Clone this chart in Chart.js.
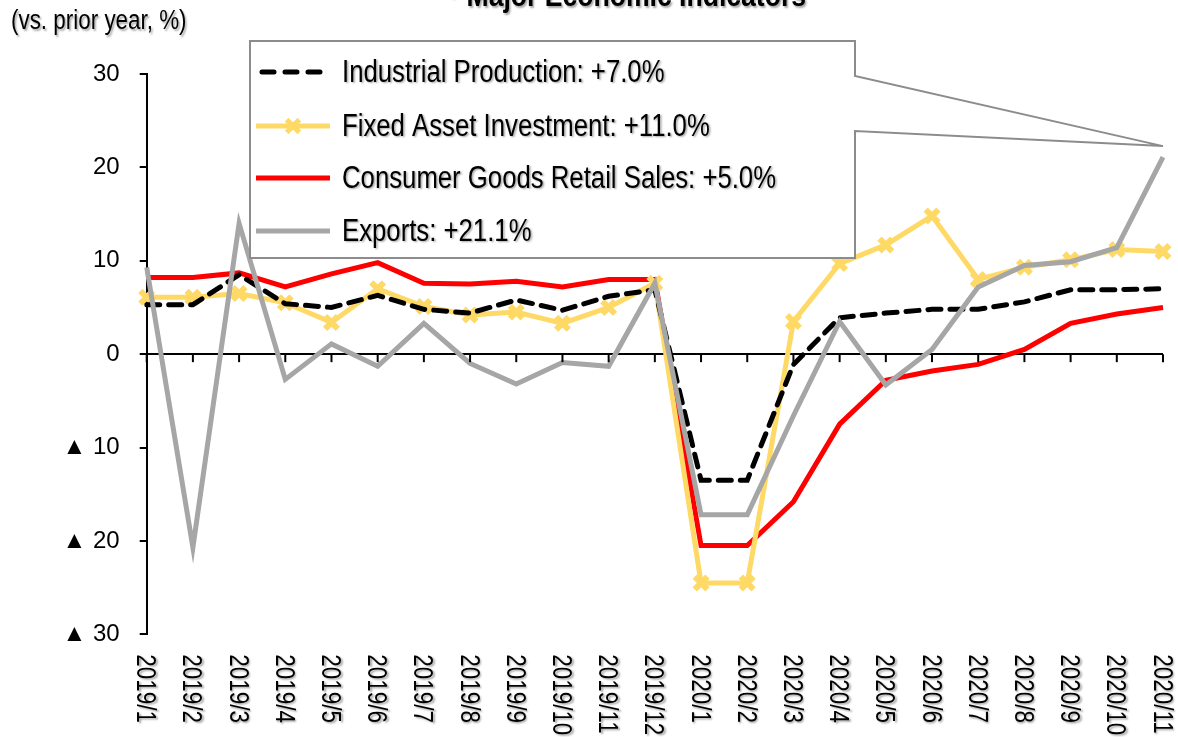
<!DOCTYPE html>
<html>
<head>
<meta charset="utf-8">
<script src="https://cdn.jsdelivr.net/npm/chart.js@4.4.1/dist/chart.umd.min.js"></script>
<style>
  html, body { margin: 0; padding: 0; background: #fff; }
  canvas { display: block; }
</style>
</head>
<body>
<canvas id="chart" width="1178" height="737"></canvas>
<script>
const months = [
  '2019/1', '2019/2', '2019/3', '2019/4', '2019/5', '2019/6', '2019/7', '2019/8',
  '2019/9', '2019/10', '2019/11', '2019/12', '2020/1', '2020/2', '2020/3', '2020/4',
  '2020/5', '2020/6', '2020/7', '2020/8', '2020/9', '2020/10', '2020/11'
];
const industrialProduction = [5.3, 5.3, 8.5, 5.4, 5.0, 6.3, 4.8, 4.4, 5.8, 4.7, 6.2, 6.9, -13.5, -13.5, -1.1, 3.9, 4.4, 4.8, 4.8, 5.6, 6.9, 6.9, 7.0];
const fixedAssetInvestment = [6.1, 6.1, 6.5, 5.5, 3.4, 7.0, 5.1, 4.2, 4.5, 3.3, 5.0, 7.6, -24.5, -24.5, 3.5, 9.7, 11.7, 14.8, 8.0, 9.3, 10.1, 11.2, 11.0];
const retailSales = [8.2, 8.2, 8.7, 7.2, 8.6, 9.8, 7.6, 7.5, 7.8, 7.2, 8.0, 8.0, -20.5, -20.5, -15.8, -7.5, -2.8, -1.8, -1.1, 0.5, 3.3, 4.3, 5.0];
const exportGrowth = [9.3, -20.7, 14.0, -2.7, 1.1, -1.3, 3.3, -1.0, -3.2, -0.9, -1.3, 7.6, -17.2, -17.2, -6.6, 3.5, -3.3, 0.5, 7.2, 9.5, 9.9, 11.4, 21.1];

const seriesNames = [
  'Industrial Production: +7.0%',
  'Fixed Asset Investment: +11.0%',
  'Consumer Goods Retail Sales: +5.0%',
  'Exports: +21.1%'
];
const yTicks = [-30, -20, -10, 0, 10, 20, 30];
const chartTitle = '\u30FBMajor Economic Indicators';
const unitLabel = '(vs. prior year, %)';

const FONT = '"Liberation Sans", Arial, sans-serif';
const NARROW = 0.83; // the slide uses a narrow face, squeeze the regular one

function withShadow(ctx) {
  ctx.shadowColor = 'rgba(0,0,0,0.35)';
  ctx.shadowOffsetX = 1.5;
  ctx.shadowOffsetY = 1.5;
  ctx.shadowBlur = 2;
}

function narrowText(ctx, text, x, y, rot) {
  ctx.save();
  ctx.translate(x, y);
  if (rot) ctx.rotate(rot);
  ctx.scale(NARROW, 1);
  ctx.fillText(text, 0, 0);
  ctx.restore();
}

// tick marks on the zero line + rotated month labels at the bottom
const xAxisPlugin = {
  id: 'xAxisPlugin',
  afterDraw(chart) {
    const ctx = chart.ctx;
    const x = chart.scales.x;
    const y0 = chart.scales.y.getPixelForValue(0);
    ctx.save();
    ctx.strokeStyle = '#000';
    ctx.lineWidth = 2;
    months.forEach((m, i) => {
      const px = x.getPixelForValue(i);
      ctx.beginPath();
      ctx.moveTo(px, y0);
      ctx.lineTo(px, y0 + 8);
      ctx.stroke();
    });
    ctx.fillStyle = '#000';
    ctx.font = '27px ' + FONT;
    ctx.textAlign = 'left';
    ctx.textBaseline = 'middle';
    withShadow(ctx);
    months.forEach((m, i) => {
      narrowText(ctx, m, x.getPixelForValue(i) - 2, chart.chartArea.bottom + 20, Math.PI / 2);
    });
    ctx.restore();
  }
};

// callout legend box pointing at the last exports point, title and unit text
const calloutPlugin = {
  id: 'calloutPlugin',
  afterDatasetsDraw(chart) {
    const ctx = chart.ctx;
    const box = { left: 250, top: 41, right: 855, bottom: 258, notchTop: 76, notchBottom: 131 };
    const last = months.length - 1;
    const tipX = chart.scales.x.getPixelForValue(last);
    const tipY = chart.scales.y.getPixelForValue(exportGrowth[last]) - 11;

    ctx.save();
    ctx.beginPath();
    ctx.moveTo(box.left, box.top);
    ctx.lineTo(box.right, box.top);
    ctx.lineTo(box.right, box.notchTop);
    ctx.lineTo(tipX, tipY);
    ctx.lineTo(box.right, box.notchBottom);
    ctx.lineTo(box.right, box.bottom);
    ctx.lineTo(box.left, box.bottom);
    ctx.closePath();
    ctx.fillStyle = '#fff';
    ctx.fill();
    ctx.strokeStyle = '#8c8c8c';
    ctx.lineWidth = 2;
    ctx.stroke();

    const rows = [72, 126, 178, 231];
    chart.data.datasets.forEach((ds, i) => {
      const y = rows[i];
      ctx.save();
      ctx.strokeStyle = ds.borderColor;
      ctx.lineWidth = ds.borderWidth;
      ctx.lineCap = ds.borderDash ? 'round' : 'butt';
      ctx.setLineDash(ds.borderDash ? [12, 11] : []);
      ctx.beginPath();
      ctx.moveTo(ds.borderDash ? 262 : 256, y);
      ctx.lineTo(330, y);
      ctx.stroke();
      ctx.setLineDash([]);
      if (ds.pointRadius > 0) {
        Chart.helpers.drawPoint(ctx, {
          pointStyle: ds.pointStyle, radius: ds.pointRadius, borderWidth: ds.pointBorderWidth
        }, 293, y);
      }
      ctx.restore();
      ctx.save();
      ctx.fillStyle = '#000';
      ctx.font = '31px ' + FONT;
      ctx.textAlign = 'left';
      ctx.textBaseline = 'middle';
      withShadow(ctx);
      narrowText(ctx, ds.label, 342, y + 1);
      ctx.restore();
    });

    ctx.fillStyle = '#000';
    withShadow(ctx);
    ctx.font = 'bold 32px ' + FONT;
    ctx.textAlign = 'center';
    ctx.textBaseline = 'alphabetic';
    narrowText(ctx, chartTitle, 623, 6);
    ctx.font = '27px ' + FONT;
    ctx.textAlign = 'left';
    ctx.textBaseline = 'middle';
    narrowText(ctx, unitLabel, 11, 22);
    ctx.restore();
  }
};

const data = {
  labels: months,
  datasets: [
    {
      label: seriesNames[0],
      data: industrialProduction,
      borderColor: '#000000',
      borderWidth: 5,
      borderDash: [13, 9],
      borderCapStyle: 'round',
      pointRadius: 0,
      order: 1
    },
    {
      label: seriesNames[1],
      data: fixedAssetInvestment,
      borderColor: '#FFD966',
      backgroundColor: '#FFD966',
      borderWidth: 5,
      pointStyle: 'crossRot',
      pointRadius: 9,
      pointBorderWidth: 6,
      pointBorderColor: '#FFD966',
      order: 2
    },
    {
      label: seriesNames[2],
      data: retailSales,
      borderColor: '#FF0000',
      borderWidth: 5,
      pointRadius: 0,
      order: 3
    },
    {
      label: seriesNames[3],
      data: exportGrowth,
      borderColor: '#A6A6A6',
      borderWidth: 5,
      pointRadius: 0,
      order: 0
    }
  ]
};

new Chart(document.getElementById('chart'), {
  type: 'line',
  data: data,
  options: {
    responsive: false,
    animation: false,
    devicePixelRatio: 1,
    layout: { padding: { top: 74, right: 12, left: 0, bottom: 0 } },
    plugins: {
      legend: { display: false },
      title: { display: false },
      tooltip: { enabled: false }
    },
    elements: { line: { tension: 0 } },
    scales: {
      x: {
        offset: false,
        grid: { display: false },
        border: { display: false },
        ticks: { display: false },
        afterFit: (scale) => { scale.height = 102.7; }
      },
      y: {
        min: yTicks[0],
        max: yTicks[yTicks.length - 1],
        afterBuildTicks: (scale) => { scale.ticks = yTicks.map(v => ({ value: v })); },
        border: { color: '#000', width: 2 },
        grid: {
          color: (c) => (c.tick && c.tick.value === 0 ? '#000' : 'rgba(0,0,0,0)'),
          lineWidth: 2,
          tickColor: '#000',
          tickLength: 7
        },
        ticks: {
          color: '#000',
          padding: 20,
          font: { family: FONT, size: 24 },
          callback: (v) => (v < 0 ? '\u25B2 ' + (-v) : '' + v)
        },
        afterFit: (scale) => { scale.width = 146.7; }
      }
    }
  },
  plugins: [xAxisPlugin, calloutPlugin]
});
</script>
</body>
</html>
